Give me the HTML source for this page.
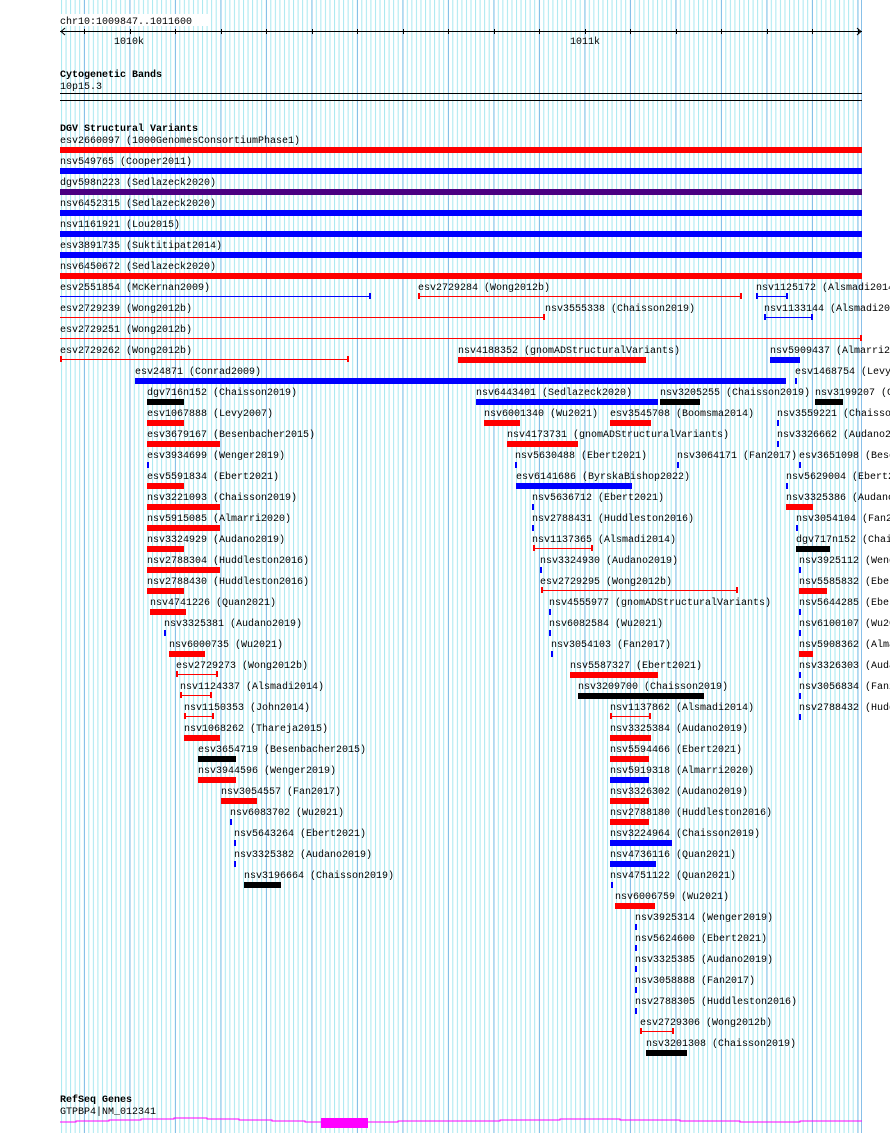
<!DOCTYPE html>
<html><head><meta charset="utf-8"><style>
body{margin:0;width:890px;height:1133px;overflow:hidden;background:#fff;position:relative;font-family:"Liberation Mono",monospace;font-size:10px;color:#000}
.t{position:absolute;white-space:pre;line-height:12px;font-size:10px;margin-top:2px}
.b{font-weight:bold}
.r{position:absolute;height:6px}
.R{background:#f00}.B{background:#00f}.K{background:#000}.P{background:#4b0082}
.l{position:absolute;height:1px}
.k{position:absolute;width:2px;height:6px}
svg{position:absolute;left:0;top:0}
</style></head><body>
<svg width="890" height="1133">
<defs>
<pattern id="g" x="61" y="0" width="4.55" height="10" patternUnits="userSpaceOnUse"><rect x="0" y="0" width="1" height="10" fill="#a8e8f0"/></pattern>
<pattern id="G" x="84" y="0" width="45.5" height="10" patternUnits="userSpaceOnUse"><rect x="0" y="0" width="1" height="10" fill="#88c0e8"/></pattern>
</defs>
<rect x="60" y="0" width="802" height="1133" fill="url(#g)"/>
<rect x="60" y="0" width="802" height="1133" fill="url(#G)"/>
<rect x="861" y="0" width="1" height="1133" fill="#88c0e8"/>
<rect x="60" y="14" width="150" height="12" fill="#fff"/>
<line x1="60" y1="31.5" x2="862" y2="31.5" stroke="#000"/>
<polyline points="65,28 61,31.5 65,35" fill="none" stroke="#000"/>
<polyline points="857,28 861,31.5 857,35" fill="none" stroke="#000"/>
<g stroke="#000">
<line x1="84.5" y1="29" x2="84.5" y2="34"/><line x1="130.5" y1="29" x2="130.5" y2="34"/><line x1="175.5" y1="29" x2="175.5" y2="34"/><line x1="221.5" y1="29" x2="221.5" y2="34"/><line x1="266.5" y1="29" x2="266.5" y2="34"/><line x1="312.5" y1="29" x2="312.5" y2="34"/><line x1="357.5" y1="29" x2="357.5" y2="34"/><line x1="403.5" y1="29" x2="403.5" y2="34"/><line x1="448.5" y1="29" x2="448.5" y2="34"/><line x1="494.5" y1="29" x2="494.5" y2="34"/><line x1="539.5" y1="29" x2="539.5" y2="34"/><line x1="585.5" y1="29" x2="585.5" y2="34"/><line x1="630.5" y1="29" x2="630.5" y2="34"/><line x1="676.5" y1="29" x2="676.5" y2="34"/><line x1="721.5" y1="29" x2="721.5" y2="34"/><line x1="767.5" y1="29" x2="767.5" y2="34"/><line x1="812.5" y1="29" x2="812.5" y2="34"/><line x1="858.5" y1="29" x2="858.5" y2="34"/>
</g>
<rect x="60" y="93" width="802" height="1" fill="#000"/>
<rect x="60" y="100" width="802" height="1" fill="#000"/>
<polyline points="60,1122 76,1122 76,1121 109,1121 109,1120 141,1120 141,1119 174,1119 174,1118 207,1118 207,1119 239,1119 239,1120 272,1120 272,1121 305,1121 305,1122 321,1122" fill="none" stroke="#f0f"/>
<rect x="321" y="1118" width="47" height="10" fill="#f0f"/>
<polyline points="368,1122 398,1122 398,1121 500,1121 500,1120 560,1120 560,1119 620,1119 620,1120 680,1120 680,1121 740,1121 740,1122 800,1122 800,1121 862,1121" fill="none" stroke="#f0f"/>
</svg>
<div class="t" style="left:60px;top:15px">chr10:1009847..1011600</div>
<div class="t" style="left:114px;top:35px">1010k</div>
<div class="t" style="left:570px;top:35px">1011k</div>
<div class="t b" style="left:60px;top:68px">Cytogenetic Bands</div>
<div class="t" style="left:60px;top:80px">10p15.3</div>
<div class="t b" style="left:60px;top:122px">DGV Structural Variants</div>
<div class="t b" style="left:60px;top:1093px">RefSeq Genes</div>
<div class="t" style="left:60px;top:1105px">GTPBP4|NM_012341</div>

<div class="t" style="left:60px;top:134px">esv2660097 (1000GenomesConsortiumPhase1)</div><div class="r R" style="left:60px;width:802px;top:147px"></div>
<div class="t" style="left:60px;top:155px">nsv549765 (Cooper2011)</div><div class="r B" style="left:60px;width:802px;top:168px"></div>
<div class="t" style="left:60px;top:176px">dgv598n223 (Sedlazeck2020)</div><div class="r P" style="left:60px;width:802px;top:189px"></div>
<div class="t" style="left:60px;top:197px">nsv6452315 (Sedlazeck2020)</div><div class="r B" style="left:60px;width:802px;top:210px"></div>
<div class="t" style="left:60px;top:218px">nsv1161921 (Lou2015)</div><div class="r B" style="left:60px;width:802px;top:231px"></div>
<div class="t" style="left:60px;top:239px">esv3891735 (Suktitipat2014)</div><div class="r B" style="left:60px;width:802px;top:252px"></div>
<div class="t" style="left:60px;top:260px">nsv6450672 (Sedlazeck2020)</div><div class="r R" style="left:60px;width:802px;top:273px"></div>
<div class="t" style="left:60px;top:281px">esv2551854 (McKernan2009)</div><div class="l B" style="left:60px;width:311px;top:296px"></div><div class="k B" style="left:369px;top:293px"></div>
<div class="t" style="left:418px;top:281px">esv2729284 (Wong2012b)</div><div class="l R" style="left:418px;width:324px;top:296px"></div><div class="k R" style="left:418px;top:293px"></div><div class="k R" style="left:740px;top:293px"></div>
<div class="t" style="left:756px;top:281px">nsv1125172 (Alsmadi2014)</div><div class="l B" style="left:756px;width:32px;top:296px"></div><div class="k B" style="left:756px;top:293px"></div><div class="k B" style="left:786px;top:293px"></div>
<div class="t" style="left:60px;top:302px">esv2729239 (Wong2012b)</div><div class="l R" style="left:60px;width:485px;top:317px"></div><div class="k R" style="left:543px;top:314px"></div>
<div class="t" style="left:545px;top:302px">nsv3555338 (Chaisson2019)</div>
<div class="t" style="left:764px;top:302px">nsv1133144 (Alsmadi2014)</div><div class="l B" style="left:764px;width:48px;top:317px"></div><div class="k B" style="left:764px;top:314px"></div><div class="k B" style="left:811px;top:314px"></div>
<div class="t" style="left:60px;top:323px">esv2729251 (Wong2012b)</div><div class="l R" style="left:60px;width:802px;top:338px"></div><div class="k R" style="left:860px;top:335px"></div>
<div class="t" style="left:60px;top:344px">esv2729262 (Wong2012b)</div><div class="l R" style="left:60px;width:288px;top:359px"></div><div class="k R" style="left:60px;top:356px"></div><div class="k R" style="left:347px;top:356px"></div>
<div class="t" style="left:458px;top:344px">nsv4188352 (gnomADStructuralVariants)</div><div class="r R" style="left:458px;width:188px;top:357px"></div>
<div class="t" style="left:770px;top:344px">nsv5909437 (Almarri2020)</div><div class="r B" style="left:770px;width:30px;top:357px"></div>
<div class="t" style="left:135px;top:365px">esv24871 (Conrad2009)</div><div class="r B" style="left:135px;width:651px;top:378px"></div>
<div class="t" style="left:795px;top:365px">esv1468754 (Levy2007)</div><div class="k B" style="left:795px;top:378px"></div>
<div class="t" style="left:147px;top:386px">dgv716n152 (Chaisson2019)</div><div class="r K" style="left:147px;width:37px;top:399px"></div>
<div class="t" style="left:476px;top:386px">nsv6443401 (Sedlazeck2020)</div><div class="r B" style="left:476px;width:182px;top:399px"></div>
<div class="t" style="left:660px;top:386px">nsv3205255 (Chaisson2019)</div><div class="r K" style="left:660px;width:40px;top:399px"></div>
<div class="t" style="left:815px;top:386px">nsv3199207 (Chaisson2019)</div><div class="r K" style="left:815px;width:28px;top:399px"></div>
<div class="t" style="left:147px;top:407px">esv1067888 (Levy2007)</div><div class="r R" style="left:147px;width:37px;top:420px"></div>
<div class="t" style="left:484px;top:407px">nsv6001340 (Wu2021)</div><div class="r R" style="left:484px;width:36px;top:420px"></div>
<div class="t" style="left:610px;top:407px">esv3545708 (Boomsma2014)</div><div class="r R" style="left:610px;width:41px;top:420px"></div>
<div class="t" style="left:777px;top:407px">nsv3559221 (Chaisson2019)</div><div class="k B" style="left:777px;top:420px"></div>
<div class="t" style="left:147px;top:428px">esv3679167 (Besenbacher2015)</div><div class="r R" style="left:147px;width:73px;top:441px"></div>
<div class="t" style="left:507px;top:428px">nsv4173731 (gnomADStructuralVariants)</div><div class="r R" style="left:507px;width:71px;top:441px"></div>
<div class="t" style="left:777px;top:428px">nsv3326662 (Audano2019)</div><div class="k B" style="left:777px;top:441px"></div>
<div class="t" style="left:147px;top:449px">esv3934699 (Wenger2019)</div><div class="k B" style="left:147px;top:462px"></div>
<div class="t" style="left:515px;top:449px">nsv5630488 (Ebert2021)</div><div class="k B" style="left:515px;top:462px"></div>
<div class="t" style="left:677px;top:449px">nsv3064171 (Fan2017)</div><div class="k B" style="left:677px;top:462px"></div>
<div class="t" style="left:799px;top:449px">esv3651098 (Besenbacher2015)</div><div class="k B" style="left:799px;top:462px"></div>
<div class="t" style="left:147px;top:470px">esv5591834 (Ebert2021)</div><div class="r R" style="left:147px;width:37px;top:483px"></div>
<div class="t" style="left:516px;top:470px">esv6141686 (ByrskaBishop2022)</div><div class="r B" style="left:516px;width:116px;top:483px"></div>
<div class="t" style="left:786px;top:470px">nsv5629004 (Ebert2021)</div><div class="k B" style="left:786px;top:483px"></div>
<div class="t" style="left:147px;top:491px">nsv3221093 (Chaisson2019)</div><div class="r R" style="left:147px;width:73px;top:504px"></div>
<div class="t" style="left:532px;top:491px">nsv5636712 (Ebert2021)</div><div class="k B" style="left:532px;top:504px"></div>
<div class="t" style="left:786px;top:491px">nsv3325386 (Audano2019)</div><div class="r R" style="left:786px;width:27px;top:504px"></div>
<div class="t" style="left:147px;top:512px">nsv5915085 (Almarri2020)</div><div class="r R" style="left:147px;width:73px;top:525px"></div>
<div class="t" style="left:532px;top:512px">nsv2788431 (Huddleston2016)</div><div class="k B" style="left:532px;top:525px"></div>
<div class="t" style="left:796px;top:512px">nsv3054104 (Fan2017)</div><div class="k B" style="left:796px;top:525px"></div>
<div class="t" style="left:147px;top:533px">nsv3324929 (Audano2019)</div><div class="r R" style="left:147px;width:37px;top:546px"></div>
<div class="t" style="left:532px;top:533px">nsv1137365 (Alsmadi2014)</div><div class="l R" style="left:533px;width:59px;top:548px"></div><div class="k R" style="left:533px;top:545px"></div><div class="k R" style="left:591px;top:545px"></div>
<div class="t" style="left:796px;top:533px">dgv717n152 (Chaisson2019)</div><div class="r K" style="left:796px;width:34px;top:546px"></div>
<div class="t" style="left:147px;top:554px">nsv2788304 (Huddleston2016)</div><div class="r R" style="left:147px;width:73px;top:567px"></div>
<div class="t" style="left:540px;top:554px">nsv3324930 (Audano2019)</div><div class="k B" style="left:540px;top:567px"></div>
<div class="t" style="left:799px;top:554px">nsv3925112 (Wenger2019)</div><div class="k B" style="left:799px;top:567px"></div>
<div class="t" style="left:147px;top:575px">nsv2788430 (Huddleston2016)</div><div class="r R" style="left:147px;width:37px;top:588px"></div>
<div class="t" style="left:540px;top:575px">esv2729295 (Wong2012b)</div><div class="l R" style="left:541px;width:197px;top:590px"></div><div class="k R" style="left:541px;top:587px"></div><div class="k R" style="left:736px;top:587px"></div>
<div class="t" style="left:799px;top:575px">nsv5585832 (Ebert2021)</div><div class="r R" style="left:799px;width:28px;top:588px"></div>
<div class="t" style="left:150px;top:596px">nsv4741226 (Quan2021)</div><div class="r R" style="left:150px;width:36px;top:609px"></div>
<div class="t" style="left:549px;top:596px">nsv4555977 (gnomADStructuralVariants)</div><div class="k B" style="left:549px;top:609px"></div>
<div class="t" style="left:799px;top:596px">nsv5644285 (Ebert2021)</div><div class="k B" style="left:799px;top:609px"></div>
<div class="t" style="left:164px;top:617px">nsv3325381 (Audano2019)</div><div class="k B" style="left:164px;top:630px"></div>
<div class="t" style="left:549px;top:617px">nsv6082584 (Wu2021)</div><div class="k B" style="left:549px;top:630px"></div>
<div class="t" style="left:799px;top:617px">nsv6100107 (Wu2021)</div><div class="k B" style="left:799px;top:630px"></div>
<div class="t" style="left:169px;top:638px">nsv6000735 (Wu2021)</div><div class="r R" style="left:169px;width:36px;top:651px"></div>
<div class="t" style="left:551px;top:638px">nsv3054103 (Fan2017)</div><div class="k B" style="left:551px;top:651px"></div>
<div class="t" style="left:799px;top:638px">nsv5908362 (Almarri2020)</div><div class="r R" style="left:799px;width:14px;top:651px"></div>
<div class="t" style="left:176px;top:659px">esv2729273 (Wong2012b)</div><div class="l R" style="left:176px;width:42px;top:674px"></div><div class="k R" style="left:176px;top:671px"></div><div class="k R" style="left:216px;top:671px"></div>
<div class="t" style="left:570px;top:659px">nsv5587327 (Ebert2021)</div><div class="r R" style="left:570px;width:88px;top:672px"></div>
<div class="t" style="left:799px;top:659px">nsv3326303 (Audano2019)</div><div class="k B" style="left:799px;top:672px"></div>
<div class="t" style="left:180px;top:680px">nsv1124337 (Alsmadi2014)</div><div class="l R" style="left:180px;width:32px;top:695px"></div><div class="k R" style="left:180px;top:692px"></div><div class="k R" style="left:210px;top:692px"></div>
<div class="t" style="left:578px;top:680px">nsv3209700 (Chaisson2019)</div><div class="r K" style="left:578px;width:126px;top:693px"></div>
<div class="t" style="left:799px;top:680px">nsv3056834 (Fan2017)</div><div class="k B" style="left:799px;top:693px"></div>
<div class="t" style="left:184px;top:701px">nsv1150353 (John2014)</div><div class="l R" style="left:184px;width:30px;top:716px"></div><div class="k R" style="left:184px;top:713px"></div><div class="k R" style="left:212px;top:713px"></div>
<div class="t" style="left:610px;top:701px">nsv1137862 (Alsmadi2014)</div><div class="l R" style="left:610px;width:41px;top:716px"></div><div class="k R" style="left:610px;top:713px"></div><div class="k R" style="left:649px;top:713px"></div>
<div class="t" style="left:799px;top:701px">nsv2788432 (Huddleston2016)</div><div class="k B" style="left:799px;top:714px"></div>
<div class="t" style="left:184px;top:722px">nsv1068262 (Thareja2015)</div><div class="r R" style="left:184px;width:36px;top:735px"></div>
<div class="t" style="left:610px;top:722px">nsv3325384 (Audano2019)</div><div class="r R" style="left:610px;width:41px;top:735px"></div>
<div class="t" style="left:198px;top:743px">esv3654719 (Besenbacher2015)</div><div class="r K" style="left:198px;width:38px;top:756px"></div>
<div class="t" style="left:610px;top:743px">nsv5594466 (Ebert2021)</div><div class="r R" style="left:610px;width:39px;top:756px"></div>
<div class="t" style="left:198px;top:764px">nsv3944596 (Wenger2019)</div><div class="r R" style="left:198px;width:38px;top:777px"></div>
<div class="t" style="left:610px;top:764px">nsv5919318 (Almarri2020)</div><div class="r B" style="left:610px;width:39px;top:777px"></div>
<div class="t" style="left:221px;top:785px">nsv3054557 (Fan2017)</div><div class="r R" style="left:221px;width:36px;top:798px"></div>
<div class="t" style="left:610px;top:785px">nsv3326302 (Audano2019)</div><div class="r R" style="left:610px;width:39px;top:798px"></div>
<div class="t" style="left:230px;top:806px">nsv6083702 (Wu2021)</div><div class="k B" style="left:230px;top:819px"></div>
<div class="t" style="left:610px;top:806px">nsv2788180 (Huddleston2016)</div><div class="r R" style="left:610px;width:39px;top:819px"></div>
<div class="t" style="left:234px;top:827px">nsv5643264 (Ebert2021)</div><div class="k B" style="left:234px;top:840px"></div>
<div class="t" style="left:610px;top:827px">nsv3224964 (Chaisson2019)</div><div class="r B" style="left:610px;width:62px;top:840px"></div>
<div class="t" style="left:234px;top:848px">nsv3325382 (Audano2019)</div><div class="k B" style="left:234px;top:861px"></div>
<div class="t" style="left:610px;top:848px">nsv4736116 (Quan2021)</div><div class="r B" style="left:610px;width:46px;top:861px"></div>
<div class="t" style="left:244px;top:869px">nsv3196664 (Chaisson2019)</div><div class="r K" style="left:244px;width:37px;top:882px"></div>
<div class="t" style="left:610px;top:869px">nsv4751122 (Quan2021)</div><div class="k B" style="left:611px;top:882px"></div>
<div class="t" style="left:615px;top:890px">nsv6006759 (Wu2021)</div><div class="r R" style="left:615px;width:40px;top:903px"></div>
<div class="t" style="left:635px;top:911px">nsv3925314 (Wenger2019)</div><div class="k B" style="left:635px;top:924px"></div>
<div class="t" style="left:635px;top:932px">nsv5624600 (Ebert2021)</div><div class="k B" style="left:635px;top:945px"></div>
<div class="t" style="left:635px;top:953px">nsv3325385 (Audano2019)</div><div class="k B" style="left:635px;top:966px"></div>
<div class="t" style="left:635px;top:974px">nsv3058888 (Fan2017)</div><div class="k B" style="left:635px;top:987px"></div>
<div class="t" style="left:635px;top:995px">nsv2788305 (Huddleston2016)</div><div class="k B" style="left:635px;top:1008px"></div>
<div class="t" style="left:640px;top:1016px">esv2729306 (Wong2012b)</div><div class="l R" style="left:640px;width:34px;top:1031px"></div><div class="k R" style="left:640px;top:1028px"></div><div class="k R" style="left:672px;top:1028px"></div>
<div class="t" style="left:646px;top:1037px">nsv3201308 (Chaisson2019)</div><div class="r K" style="left:646px;width:41px;top:1050px"></div>
</body></html>
